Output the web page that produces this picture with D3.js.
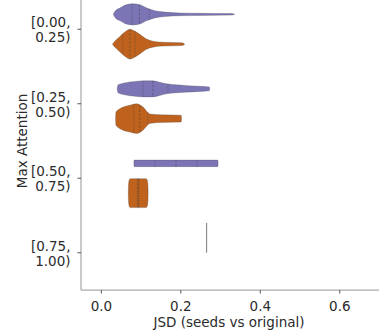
<!DOCTYPE html>
<html>
<head>
<meta charset="utf-8">
<script src="https://cdn.jsdelivr.net/npm/d3@7"></script>
<style>
  body { margin: 0; background: #fff; }
  svg { display: block; }
</style>
</head>
<body>
<div id="graphic"></div>
<script>
// max attention bins (y categories), each label split on two lines
const bins = ["[0.00,|0.25)", "[0.25,|0.50)", "[0.50,|0.75)", "[0.75,|1.00)"];
const hues = ["purple", "orange"];
const xTicks = [0.0, 0.2, 0.4, 0.6];

// violin outlines: [jsd, relative half width]
const purpleShapes = [
  [[0.031, 0], [0.036, 0.22], [0.048, 0.42], [0.063, 0.64], [0.080, 0.71], [0.098, 0.65],
   [0.116, 0.42], [0.136, 0.24], [0.161, 0.15], [0.199, 0.09], [0.249, 0.07], [0.330, 0.05], [0.337, 0]],
  [[0.041, 0], [0.043, 0.26], [0.060, 0.40], [0.086, 0.50], [0.111, 0.54], [0.131, 0.54],
   [0.148, 0.44], [0.169, 0.32], [0.211, 0.23], [0.249, 0.17], [0.273, 0.13], [0.274, 0]],
  [[0.083, 0], [0.0835, 0.21], [0.086, 0.22], [0.292, 0.22], [0.2945, 0.21], [0.295, 0]],
  null
];
const orangeShapes = [
  [[0.029, 0], [0.038, 0.28], [0.048, 0.52], [0.062, 0.85], [0.073, 1.0], [0.085, 0.88],
   [0.098, 0.66], [0.115, 0.34], [0.131, 0.20], [0.156, 0.13], [0.205, 0.09], [0.211, 0]],
  [[0.037, 0], [0.038, 0.45], [0.048, 0.67], [0.073, 0.90], [0.090, 1.0], [0.106, 0.78],
   [0.123, 0.32], [0.150, 0.26], [0.202, 0.23], [0.203, 0]],
  [[0.069, 0], [0.0695, 0.5], [0.071, 0.85], [0.074, 0.97], [0.114, 0.97], [0.117, 0.85], [0.1185, 0.5], [0.119, 0]],
  null
];
// quartiles [q1, median, q3]
const purpleQuartiles = [[0.078, 0.097, 0.122], [0.106, 0.131, 0.169], [0.136, 0.189, 0.242], null];
const orangeQuartiles = [[0.055, 0.073, 0.086], [0.083, 0.098, 0.118], [0.092, 0.094, 0.096], null];
// single observation bins
const purpleSingle = [null, null, null, 0.266];
const orangeSingle = [null, null, null, null];

const width = 379, height = 332;
const colors = {purple: "#7b75b6", orange: "#bf621e"};

const svg = d3.select("#graphic").append("svg")
  .attr("width", width)
  .attr("height", height)
  .attr("font-family", "DejaVu Sans, sans-serif")
  .attr("font-size", 13.5);

const x = d3.scaleLinear().domain([-0.05, 0.705]).range([81, 381]);
const y = d3.scaleBand().domain(bins).range([-8, 290]);
const hue = d3.scaleBand().domain(hues).range([0, y.bandwidth()]).paddingOuter(0.25);
const w = d3.scaleLinear().domain([0, 1]).range([0, hue.bandwidth() / 2]);

const series = {
  purple: {shapes: purpleShapes, quart: purpleQuartiles, single: purpleSingle},
  orange: {shapes: orangeShapes, quart: orangeQuartiles, single: orangeSingle}
};

function halfAt(shape, v) {
  for (let i = 1; i < shape.length; i++) {
    if (v <= shape[i][0]) {
      const a = shape[i - 1], b = shape[i];
      const t = (v - a[0]) / (b[0] - a[0]);
      return a[1] + t * (b[1] - a[1]);
    }
  }
  return 0;
}

const plot = svg.append("g");

hues.forEach(h => {
  const s = series[h];
  bins.forEach((bin, i) => {
    const cy = y(bin) + hue(h) + hue.bandwidth() / 2;
    const shape = s.shapes[i];
    if (shape) {
      const area = d3.area()
        .x(d => x(d[0]))
        .y0(d => cy - w(d[1]))
        .y1(d => cy + w(d[1]))
        .curve(d3.curveMonotoneX);
      plot.append("path")
        .attr("d", area(shape))
        .attr("fill", colors[h])
        .attr("stroke", "#3d3d3d")
        .attr("stroke-opacity", 0.45)
        .attr("stroke-width", 0.6);
      s.quart[i].forEach((q, k) => {
        const hw = w(halfAt(shape, q));
        plot.append("line")
          .attr("x1", x(q)).attr("x2", x(q))
          .attr("y1", cy - hw).attr("y2", cy + hw)
          .attr("stroke", "#3a3a3a")
          .attr("stroke-opacity", 0.6)
          .attr("stroke-width", 0.7)
          .attr("stroke-dasharray", k == 1 ? "2.5,1.5" : "1.2,1.2");
      });
    }
    if (s.single[i] != null) {
      plot.append("line")
        .attr("x1", x(s.single[i])).attr("x2", x(s.single[i]))
        .attr("y1", cy - w(1)).attr("y2", cy + w(1))
        .attr("stroke", "#8c8c8c")
        .attr("stroke-width", 1.2);
    }
  });
});

// axes
const xAxis = svg.append("g")
  .attr("transform", "translate(0,290)")
  .call(d3.axisBottom(x).tickValues(xTicks).tickFormat(d3.format(".1f")).tickSize(3.5).tickPadding(7.5));
const yAxis = svg.append("g")
  .attr("transform", "translate(81,0)")
  .call(d3.axisLeft(y).tickSize(3.5).tickPadding(7));

[xAxis, yAxis].forEach(g => {
  g.attr("font-size", 13.5).attr("font-family", "DejaVu Sans, sans-serif");
  g.select(".domain").attr("stroke", "#ababab").attr("stroke-width", 1.25);
  g.selectAll(".tick line").attr("stroke", "#555").attr("stroke-width", 1);
  g.selectAll(".tick text").attr("fill", "#2b2b2b");
});
xAxis.select(".domain").attr("d", "M81,0H381");
yAxis.select(".domain").attr("d", "M0,-8V290");

yAxis.selectAll(".tick text")
  .attr("dy", null)
  .each(function(d) {
    const t = d3.select(this).text("");
    d.split("|").forEach((part, j) => {
      t.append("tspan").attr("x", -10.5).attr("y", j == 0 ? -2 : 13).text(part);
    });
  });

svg.append("text")
  .attr("x", 229).attr("y", 327)
  .attr("text-anchor", "middle")
  .attr("fill", "#2b2b2b")
  .text("JSD (seeds vs original)");

svg.append("text")
  .attr("transform", "translate(27,141) rotate(-90)")
  .attr("text-anchor", "middle")
  .attr("fill", "#2b2b2b")
  .text("Max Attention");
</script>
</body>
</html>
